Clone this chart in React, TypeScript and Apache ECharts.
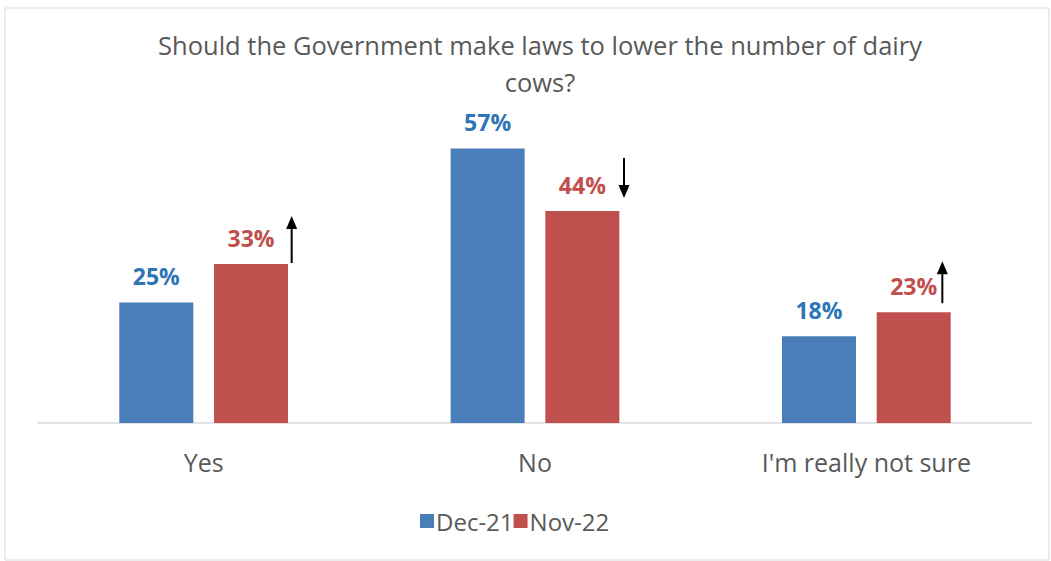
import React, { useEffect, useRef } from "react";
import * as echarts from "echarts";

const categories = ["Yes", "No", "I'm really not sure"];
const dec21 = [25, 57, 18];
const nov22 = [33, 44, 23];
const seriesNames = ["Dec-21", "Nov-22"];
const titleText = "Should the Government make laws to lower the number of dairy\ncows?";
// arrow annotations next to the Nov-22 labels: 1 = up, -1 = down
const arrowDir = [1, -1, 1];
const arrowDx = [88, 89, 76];
const arrowTopOff = [48, 53, 51];
const arrowBottomOff = [1, 13, 9];

const FONT = "'Open Sans', 'Noto Sans', sans-serif";
const BLUE = "#4a7ebb";
const RED = "#c0504d";
const BLUE_TXT = "#2e75b6";
const RED_TXT = "#c0504d";
const GRAY = "#595959";

export default function App() {
  const ref = useRef<HTMLDivElement>(null);
  useEffect(() => {
    if (!ref.current) return;
    const chart = echarts.init(ref.current, null, { renderer: "svg" });
    chart.setOption({
      animation: false,
      backgroundColor: "#ffffff",
      title: {
        text: titleText,
        left: 535,
        textAlign: "center",
        top: 21,
        textStyle: { fontFamily: FONT, fontSize: 25.5, fontWeight: "normal", color: GRAY, lineHeight: 37 },
      },
      graphic: [
        {
          type: "rect",
          shape: { x: 5, y: 8, width: 1044, height: 552 },
          style: { fill: "none", stroke: "#d9d9d9", lineWidth: 1 },
          silent: true,
          z: -1,
        },
      ],
      legend: {
        data: seriesNames,
        left: 415,
        top: 504,
        icon: "rect",
        itemWidth: 14,
        itemHeight: 14,
        itemGap: 0,
        textStyle: { fontFamily: FONT, fontSize: 24, color: GRAY, padding: [0, 0, 0, -3] },
      },
      grid: { left: 38, right: 19, top: 134, bottom: 138 },
      xAxis: {
        type: "category",
        data: categories,
        axisLine: { lineStyle: { color: "#d9d9d9", width: 1.5 } },
        axisTick: { show: false },
        axisLabel: { fontFamily: FONT, fontSize: 25, color: GRAY, margin: 26 },
      },
      yAxis: { type: "value", min: 0, max: 60, show: false, splitLine: { show: false } },
      series: [
        {
          name: seriesNames[0],
          type: "bar",
          data: dec21,
          barWidth: 74,
          barGap: "28%",
          itemStyle: { color: BLUE },
          label: {
            show: true,
            position: "top",
            distance: 15,
            formatter: "{c}%",
            fontFamily: FONT,
            fontSize: 23,
            fontWeight: "bold",
            color: BLUE_TXT,
          },
        },
        {
          name: seriesNames[1],
          type: "bar",
          data: nov22,
          barWidth: 74,
          barGap: "28%",
          itemStyle: { color: RED },
          label: {
            show: true,
            position: "top",
            distance: 15,
            formatter: "{c}%",
            fontFamily: FONT,
            fontSize: 23,
            fontWeight: "bold",
            color: RED_TXT,
          },
        },
        {
          type: "custom",
          name: "arrows",
          silent: true,
          z: 10,
          data: nov22.map((v, i) => [i, v]),
          renderItem: (params: any, api: any) => {
            const i = params.dataIndex;
            const p = api.coord([api.value(0), api.value(1)]);
            const x = p[0] + arrowDx[i];
            const top = p[1] - arrowTopOff[i];
            const bottom = p[1] - arrowBottomOff[i];
            const up = arrowDir[i] > 0;
            const head = 13;
            const hw = 5.5;
            const tipY = up ? top : bottom;
            const baseY = up ? top + head : bottom - head;
            const lineFrom = up ? bottom : top;
            return {
              type: "group",
              children: [
                {
                  type: "line",
                  shape: { x1: x, y1: lineFrom, x2: x, y2: baseY },
                  style: { stroke: "#000", lineWidth: 2 },
                },
                {
                  type: "polygon",
                  shape: { points: [[x, tipY], [x - hw, baseY], [x + hw, baseY]] },
                  style: { fill: "#000" },
                },
              ],
            };
          },
        },
      ],
    });
    return () => chart.dispose();
  }, []);
  return <div ref={ref} style={{ position: "absolute", left: 0, top: 0, width: 1051, height: 561 }} />;
}
